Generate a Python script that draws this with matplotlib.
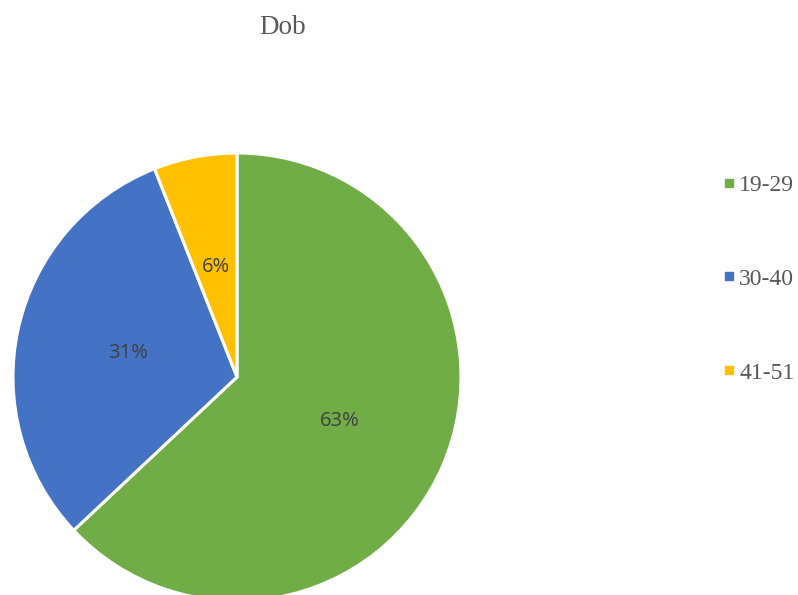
import matplotlib
matplotlib.use("Agg")
import matplotlib.pyplot as plt
from matplotlib.lines import Line2D

# data
categories = ["19-29", "30-40", "41-51"]
shares = [63, 31, 6]
colours = ["#70AD47", "#4472C4", "#FFC000"]

fig = plt.figure(figsize=(7.98, 5.95), dpi=100)

# pie axes placed so the circle matches the reference (centre 237,377 px, r=224 px)
ax = fig.add_axes([13 / 798, (595 - 377 - 224) / 595, 448 / 798, 448 / 595])
wedges, texts, autotexts = ax.pie(
    shares,
    colors=colours,
    startangle=90,
    counterclock=False,
    autopct="%1.0f%%",
    pctdistance=0.5,
    radius=1.0,
    wedgeprops=dict(edgecolor="white", linewidth=2.2),
)
for t in autotexts:
    t.set_color("#404040")
    t.set_fontsize(14.5)
    t.set_family("Open Sans")
ax.set_xlim(-1, 1)
ax.set_ylim(-1, 1)
ax.set_aspect("auto")
ax.axis("off")

fig.text(283 / 798, 1 - 27 / 595, "Dob", ha="center", va="center",
         fontsize=19.5, color="#595959", family="Liberation Serif")

handles = [Line2D([], [], marker="s", linestyle="none", markersize=6,
                  markerfacecolor=c, markeredgecolor=c) for c in colours]
fig.legend(handles, categories, loc="center left",
           bbox_to_anchor=(712 / 798, 1 - 279 / 595), frameon=False,
           prop=dict(family="Liberation Serif", size=17),
           labelcolor="#595959", labelspacing=3.06, handlelength=0.6,
           handletextpad=0.15, borderaxespad=0)

fig.savefig("out.png", dpi=100)
